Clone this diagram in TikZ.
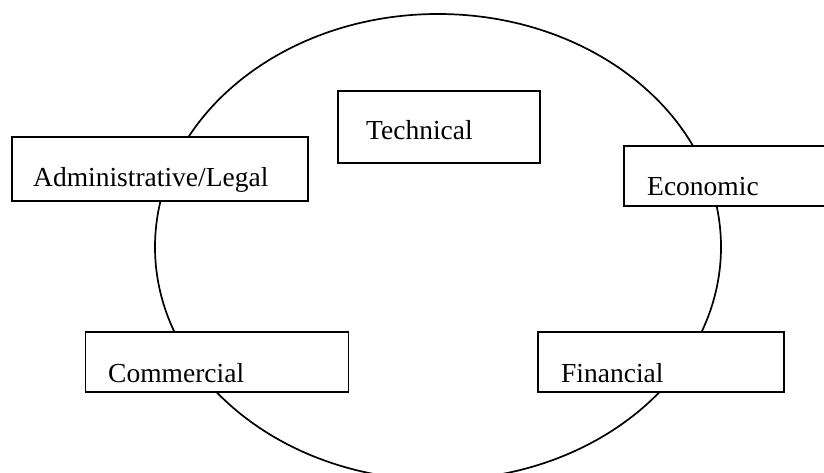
\documentclass[tikz,border=0pt]{standalone}
\usepackage{fontspec}
\setmainfont{Liberation Serif}
\usetikzlibrary{shapes.geometric}
\tikzset{
	box/.style={draw, line width=1.9pt, fill=white, rectangle, inner sep=0pt},
	lbl/.style={anchor=base west, inner sep=0pt, font=\fontsize{27.5}{32}\selectfont}
}
\begin{document}
\begin{tikzpicture}[x=1pt,y=-1pt]
		\useasboundingbox (0,0) rectangle (824,473);
		\node[draw, ellipse, line width=1.7pt, minimum width=566, minimum height=466, inner sep=0pt] (ring) at (438,247) {};
		% boxes
		\node[box, minimum width=202, minimum height=72] (tech) at (439,127) {};
		\node[box, minimum width=296, minimum height=64] (adm) at (160,169) {};
		\node[box, minimum width=240, minimum height=60] (eco) at (744,176) {};
		\node[box, minimum width=263, minimum height=60] (com) at (217,362) {};
		\node[box, minimum width=246, minimum height=60] (fin) at (661,362) {};
		% labels
		\node[lbl] (techtxt) at (366,140) {Technical};
		\node[lbl] (admtxt) at (33,187) {Administrative/Legal};
		\node[lbl] (ecotxt) at (647,196) {Economic};
		\node[lbl] (comtxt) at (108,382) {Commercial};
		\node[lbl] (fintxt) at (561,382) {Financial};
	\end{tikzpicture}
\end{document}
